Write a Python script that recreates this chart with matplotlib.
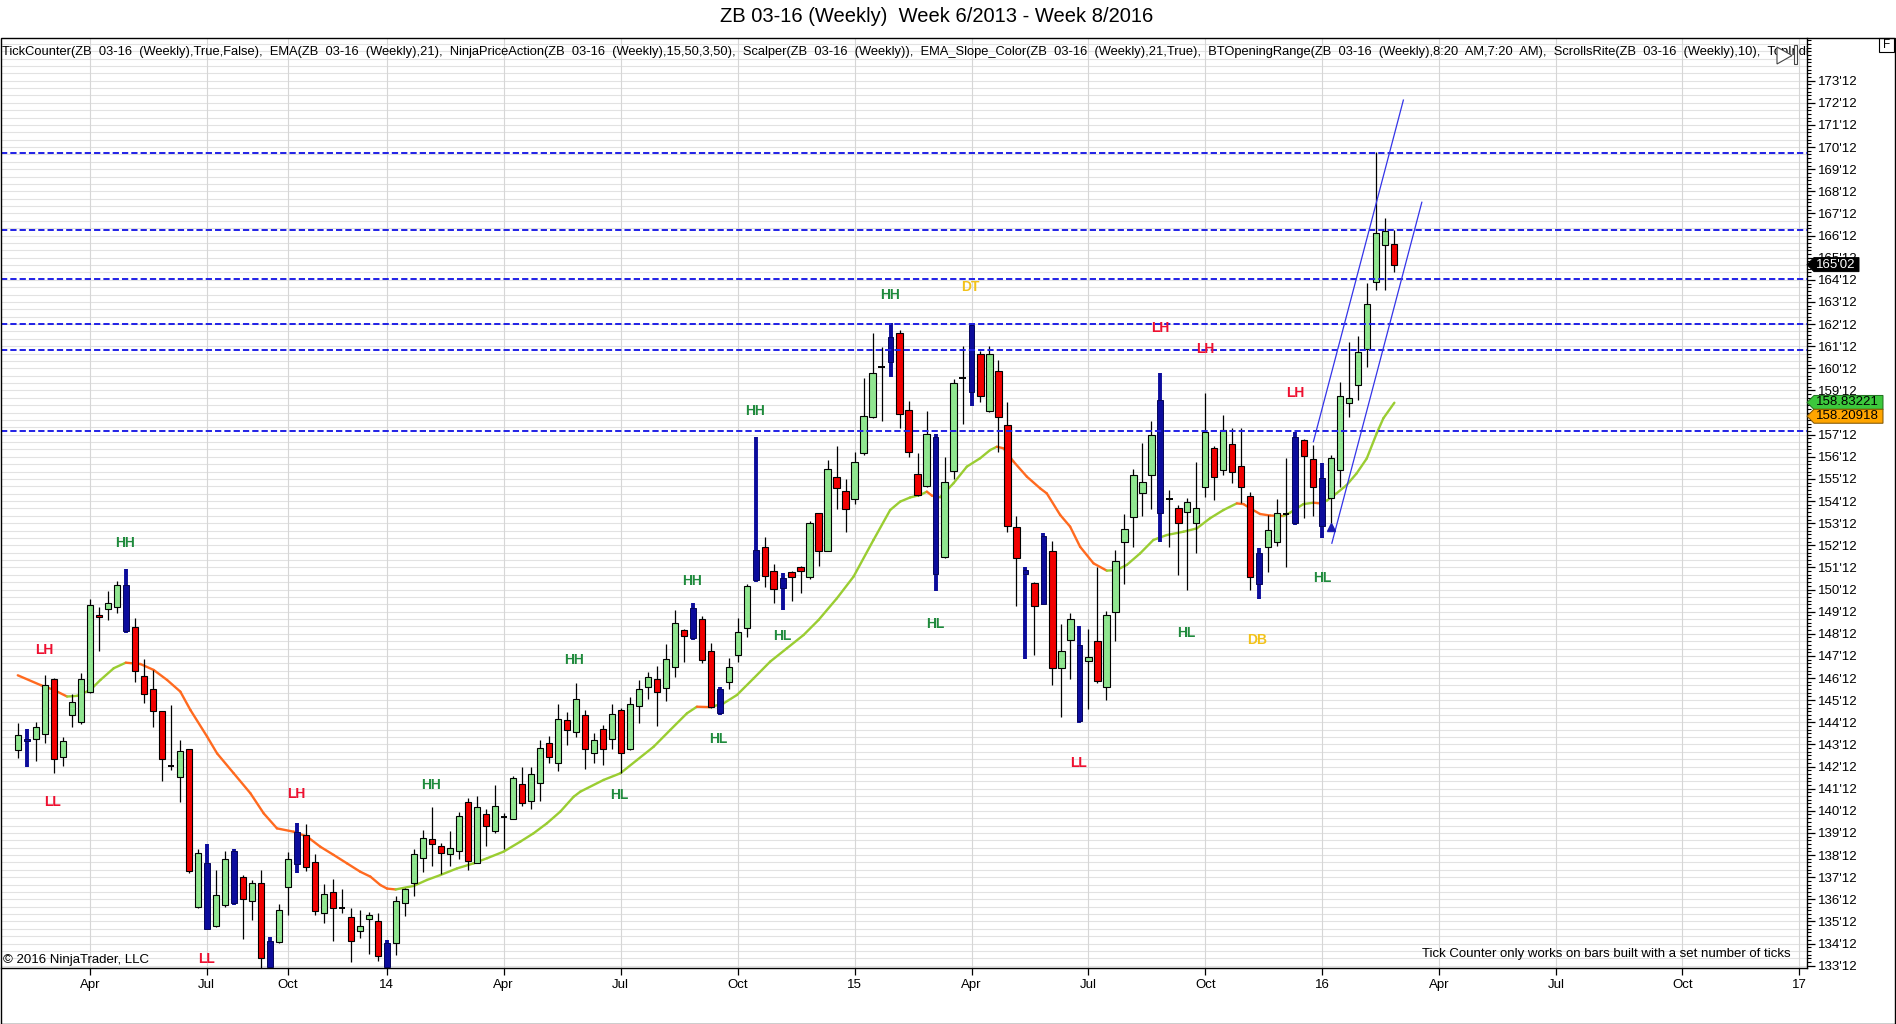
import matplotlib
matplotlib.use('Agg')
import matplotlib.pyplot as plt
from matplotlib.patches import Rectangle, Polygon
from matplotlib.collections import LineCollection
import numpy as np

plt.rcParams['font.family'] = ['Liberation Sans', 'DejaVu Sans']
plt.rcParams['lines.scale_dashes'] = False

# ---------------- data (weekly bars) ----------------
opens = [143.12, 143.60, 143.61, 143.85, 146.35, 142.79, 144.69, 144.39, 145.75, 149.24,
         149.48, 149.57, 150.57, 148.67, 146.47, 145.90, 144.87, 142.42, 141.92, 143.15,
         136.04, 138.00, 135.17, 136.13, 138.57, 137.37, 136.28, 137.13, 134.48, 134.45,
         136.92, 139.43, 139.30, 138.05, 135.74, 136.69, 135.97, 135.59, 134.96, 135.47,
         135.38, 134.42, 134.42, 136.22, 137.10, 138.23, 139.09, 138.78, 138.41, 138.57,
         140.76, 138.00, 140.23, 139.48, 140.08, 140.02, 141.59, 140.80, 141.65, 143.42,
         142.55, 144.48, 143.95, 144.71, 142.97, 144.06, 143.61, 144.92, 143.15, 145.11,
         145.96, 146.32, 145.91, 146.89, 148.55, 148.17, 149.03, 147.58, 144.78, 146.21,
         147.40, 148.62, 150.81, 152.28, 151.20, 150.43, 151.18, 151.38, 150.96, 153.82,
         152.13, 155.45, 154.83, 154.48, 156.56, 158.19, 160.45, 160.68, 161.96, 158.48,
         155.58, 155.06, 157.29, 151.86, 155.73, 159.95, 159.32, 161.01, 158.45, 160.24,
         157.80, 153.22, 151.26, 150.69, 149.72, 152.13, 146.83, 148.10, 147.87, 147.13,
         148.05, 145.96, 149.36, 152.51, 153.64, 154.73, 155.54, 158.94, 154.45, 154.05,
         153.90, 153.40, 155.00, 156.76, 155.78, 156.96, 155.96, 154.61, 150.63, 152.28,
         152.54, 153.79, 153.37, 157.14, 156.26, 155.40, 154.50, 155.78, 158.82, 159.61,
         161.23, 164.29, 165.93, 165.98]
highs = [144.36, 144.06, 144.39, 146.50, 146.38, 143.73, 145.66, 146.59, 149.96, 149.57,
         150.30, 150.75, 151.32, 149.09, 147.25, 146.74, 144.90, 145.16, 143.58, 143.18,
         138.67, 138.88, 137.70, 138.54, 138.67, 137.46, 137.25, 137.70, 134.69, 136.16,
         138.51, 139.81, 139.78, 138.42, 137.07, 137.28, 136.83, 135.97, 135.89, 135.80,
         135.74, 134.54, 136.52, 136.87, 138.63, 139.51, 140.53, 138.94, 139.46, 140.32,
         140.94, 141.04, 140.44, 141.54, 140.29, 141.95, 142.34, 142.37, 143.58, 143.76,
         145.20, 144.83, 146.14, 144.93, 143.88, 144.25, 145.20, 145.01, 145.53, 146.29,
         146.65, 146.92, 147.92, 149.45, 148.58, 149.78, 149.18, 147.98, 145.99, 147.28,
         149.08, 150.63, 157.26, 152.74, 151.53, 151.11, 151.21, 151.44, 153.49, 153.85,
         156.23, 156.88, 155.36, 156.59, 159.94, 161.96, 161.35, 162.41, 162.11, 158.91,
         156.56, 158.45, 157.41, 156.35, 159.91, 161.40, 162.41, 161.17, 161.38, 160.75,
         158.84, 153.72, 151.38, 150.73, 152.92, 152.56, 148.82, 149.33, 148.73, 148.58,
         151.41, 149.42, 152.16, 153.79, 155.81, 156.99, 157.98, 160.15, 154.88, 154.20,
         154.50, 156.16, 159.28, 156.86, 158.27, 157.66, 157.66, 154.80, 152.24, 153.75,
         154.45, 156.31, 157.51, 157.20, 156.91, 156.08, 156.46, 159.77, 161.58, 161.84,
         164.22, 170.17, 167.16, 166.63]
lows = [142.76, 142.34, 142.64, 143.43, 142.10, 142.40, 144.18, 144.30, 145.69, 147.58,
        149.00, 149.30, 148.43, 146.20, 145.23, 144.18, 141.74, 142.22, 140.77, 137.58,
        135.98, 135.02, 135.11, 136.04, 136.10, 134.57, 135.44, 133.26, 133.10, 134.42,
        135.68, 137.55, 137.64, 135.65, 135.32, 134.51, 135.77, 133.56, 134.63, 133.90,
        133.60, 133.18, 133.86, 135.62, 136.52, 137.61, 137.88, 137.52, 137.88, 138.18,
        137.70, 138.00, 138.78, 139.39, 138.66, 140.02, 140.59, 140.44, 140.83, 142.55,
        142.19, 143.36, 143.70, 142.25, 142.52, 142.45, 143.15, 142.10, 143.12, 144.33,
        145.41, 144.21, 145.35, 146.44, 147.12, 148.10, 147.04, 145.01, 144.71, 145.87,
        147.12, 148.25, 150.73, 150.48, 149.75, 149.45, 149.87, 150.24, 150.84, 151.44,
        152.13, 154.03, 152.99, 154.24, 156.44, 158.12, 158.01, 159.97, 157.66, 156.38,
        154.60, 155.03, 150.33, 151.79, 155.36, 157.86, 158.67, 158.87, 158.42, 156.61,
        152.99, 149.65, 147.22, 147.42, 149.68, 146.06, 144.60, 146.32, 144.36, 144.99,
        146.14, 145.38, 148.07, 150.63, 152.31, 153.72, 154.03, 152.54, 152.31, 151.03,
        150.36, 152.01, 154.54, 154.42, 155.55, 155.18, 154.30, 150.36, 149.93, 151.19,
        152.35, 151.38, 153.29, 153.60, 153.70, 152.69, 153.37, 155.03, 158.19, 158.94,
        160.45, 163.92, 163.92, 164.74]
closes = [143.79, 143.55, 144.15, 146.05, 142.70, 143.52, 145.29, 146.32, 149.66, 149.15,
          149.78, 150.57, 148.52, 146.68, 145.66, 144.90, 142.73, 142.42, 143.06, 137.67,
          138.48, 135.05, 136.59, 138.18, 136.20, 136.38, 137.10, 133.71, 133.30, 135.89,
          138.18, 137.97, 137.82, 135.83, 136.60, 135.97, 135.97, 134.48, 135.17, 135.65,
          133.81, 133.30, 136.28, 136.83, 138.42, 139.13, 138.86, 138.48, 138.69, 140.14,
          138.12, 140.55, 139.70, 140.59, 140.08, 141.84, 140.74, 142.04, 143.20, 142.82,
          144.51, 144.03, 145.41, 143.15, 143.56, 143.15, 144.75, 142.97, 145.19, 145.87,
          146.44, 145.76, 147.24, 148.85, 148.28, 149.53, 147.19, 145.05, 145.87, 146.86,
          148.44, 150.54, 152.16, 150.99, 150.39, 150.91, 150.96, 151.23, 153.40, 152.13,
          155.84, 154.95, 154.03, 156.16, 158.21, 160.15, 160.45, 161.81, 158.30, 156.58,
          154.65, 157.41, 151.08, 155.24, 159.70, 159.95, 162.33, 159.12, 161.01, 158.19,
          153.25, 151.79, 151.08, 149.63, 152.80, 146.82, 147.60, 149.03, 144.45, 147.31,
          146.24, 149.21, 151.68, 153.10, 155.57, 155.22, 157.35, 153.82, 154.45, 153.40,
          154.35, 154.05, 157.51, 155.48, 157.59, 155.71, 155.03, 150.93, 152.01, 153.07,
          153.85, 153.79, 157.29, 156.41, 155.03, 153.25, 156.31, 159.12, 159.02, 161.10,
          163.27, 166.51, 166.57, 165.0625]
# bars painted blue by the Scalper indicator (1-based bar numbers)
scalper_bars = [2, 13, 22, 25, 29, 32, 42, 76, 79, 83, 86, 98, 103, 107, 113, 115, 119,
                128, 139, 143, 146]

# EMA(21) line, points (bar number, price)
ema_bar = [1, 3.52, 5, 6.48, 7.59, 9.07, 10.19, 11.67, 13, 14.63, 16.11, 17.59, 19.07,
           20.19, 22.04, 23.15, 25, 26.85, 28.33, 29.81, 31.67, 33.15, 34.63, 36.11, 37.59,
           39.07, 40.19, 41.3, 42.04, 43.0, 45, 46.48, 47.96, 49.81, 51.67, 53.15, 55,
           56.85, 58.33, 59.81, 61.3, 62.78, 63.52, 66.11, 67.97, 69.82, 71.67, 73.52,
           75.37, 76.48, 77.96, 79.44, 80.93, 82.78, 84.63, 86.48, 88.33, 90.0, 92.04,
           93.89, 96.11, 97.96, 99.07, 100.19, 101.3, 102.04, 102.6, 103.52, 105.0, 106.48,
           107.96, 109.07, 109.81, 110.56, 111.67, 113.15, 114.63, 115.37, 116.85, 117.96,
           119.07, 120.56, 122.04, 123.15, 124.26, 125.74, 127.22, 128.71, 130.56, 132.04,
           133.52, 135.0, 136.48, 137.22, 137.96, 139.07, 140.19, 141.67, 142.41, 143.89,
           145.0, 145.74, 146.48, 147.59, 148.7, 149.81, 150.93, 152.04, 152.78, 154.0]
ema_val = [146.50, 146.06, 145.84, 145.54, 145.57, 145.84, 146.29, 146.82, 147.07, 147.01,
           146.74, 146.29, 145.76, 144.93, 143.73, 142.97, 142.07, 141.17, 140.26, 139.58,
           139.43, 139.21, 138.75, 138.38, 138.00, 137.62, 137.40, 137.02, 136.86, 136.82,
           136.98, 137.25, 137.47, 137.77, 138.00, 138.23, 138.53, 138.98, 139.36, 139.81,
           140.34, 141.01, 141.24, 141.77, 142.07, 142.67, 143.27, 144.03, 144.78, 145.08,
           145.06, 145.23, 145.61, 146.36, 147.12, 147.72, 148.32, 149.00, 149.98, 150.96,
           152.62, 153.97, 154.35, 154.54, 154.65, 154.80, 154.62, 154.55, 155.18, 155.93,
           156.31, 156.68, 156.83, 156.76, 156.16, 155.48, 154.95, 154.72, 153.75, 153.22,
           152.31, 151.56, 151.23, 151.26, 151.49, 152.01, 152.62, 152.84, 152.99, 153.14,
           153.60, 153.97, 154.27, 154.24, 154.05, 153.79, 153.72, 153.70, 153.85, 154.24,
           154.30, 154.27, 154.39, 154.73, 155.10, 155.63, 156.30, 157.44, 158.12, 158.82]
ema_tag_green = 158.83221
ema_tag_orange = 158.20918

# BTOpeningRange horizontal levels
levels = [170.125, 166.625, 164.40625, 162.375, 161.1875, 157.53125]

# ScrollsRite channel (bar, price) pairs
chan_upper_bar = [145.0, 155.0]
chan_upper_val = [157.06, 172.50]
chan_lower_bar = [147.05, 157.05]
chan_lower_val = [152.47, 167.88]
arrow_bar = [147]
arrow_val = [153.22]

# NinjaPriceAction swing labels
pa_text = ['LH', 'LL', 'HH', 'LL', 'LH', 'HH', 'HH', 'HL', 'HH', 'HL', 'HH', 'HL', 'HH',
           'DT', 'HL', 'LL', 'LH', 'LH', 'HL', 'DB', 'LH', 'HL']
pa_bar = [3.89, 4.89, 12.97, 21.93, 31.93, 46.97, 62.78, 67.86, 75.93, 78.89, 82.97, 85.93,
          97.97, 106.86, 102.97, 118.89, 127.97, 132.97, 130.86, 138.74, 142.97, 145.93]
pa_price = [147.64, 140.79, 152.47, 133.66, 141.14, 141.53, 147.19, 141.07, 150.76, 143.61,
            158.45, 148.28, 163.69, 164.04, 148.81, 142.52, 162.19, 161.24, 148.39, 148.11,
            159.25, 150.89]

# x axis labels (bar number of first bar of the period)
xtick_bar = [9, 22, 31, 42, 55, 68, 81, 94, 107, 120, 133, 146, 159, 172, 186, 199]
xtick_lbl = ['Apr', 'Jul', 'Oct', '14', 'Apr', 'Jul', 'Oct', '15', 'Apr', 'Jul', 'Oct', '16',
             'Apr', 'Jul', 'Oct', '17']
ytick_whole = list(range(133, 174))

title = "ZB 03-16 (Weekly)  Week 6/2013 - Week 8/2016"
indicators = ("TickCounter(ZB  03-16  (Weekly),True,False),  EMA(ZB  03-16  (Weekly),21),  "
              "NinjaPriceAction(ZB  03-16  (Weekly),15,50,3,50),  Scalper(ZB  03-16  (Weekly)),  "
              "EMA_Slope_Color(ZB  03-16  (Weekly),21,True),  BTOpeningRange(ZB  03-16  (Weekly),8:20  AM,7:20  AM),  "
              "ScrollsRite(ZB  03-16  (Weekly),10),  TopIndicator(ZB  03-16  (Weekly))")

# ---------------- figure ----------------
W, H, DPI = 1896, 1024, 100
fig = plt.figure(figsize=(W / DPI, H / DPI), dpi=DPI)
fig.patch.set_facecolor('white')


def px(x, y):
    return (x / W, 1 - y / H)


AX_L, AX_R, AX_T, AX_B = 0.5, 1807, 38, 968
ax = fig.add_axes([AX_L / W, 1 - AX_B / H, (AX_R - AX_L) / W, (AX_B - AX_T) / H])
ax.set_xlim(-0.92, 199.86)
ax.set_ylim(133.27, 175.305)
ax.set_facecolor('white')

# grid
ymin, ymax = ax.get_ylim()
gy = 133.375 - 1.0
while gy < ymax:
    if gy > ymin:
        ax.axhline(gy, color='#e2e2e2', lw=0.8, zorder=0)
    gy += 1.0 / 3.0
for xb in xtick_bar:
    ax.axvline(xb, color='#d6d6d6', lw=0.8, zorder=0)

# EMA coloured by slope
pts = np.column_stack([ema_bar, ema_val])
segs = np.stack([pts[:-1], pts[1:]], axis=1)
cols = ['#9acd32' if ema_val[k + 1] >= ema_val[k] else '#ff6a1f' for k in range(len(ema_val) - 1)]
ax.add_collection(LineCollection(segs, colors=cols, linewidths=1.7, capstyle='round', zorder=2))

# candles
n = len(opens)
xs = np.arange(1, n + 1)
for i in range(n):
    o, h, l, c = opens[i], highs[i], lows[i], closes[i]
    xb = xs[i]
    if (i + 1) in scalper_bars:
        ax.vlines(xb, l, h, color='#0c0c9c', lw=2.8, zorder=3)
        ax.add_patch(Rectangle((xb - 0.33, min(o, c)), 0.66, max(abs(c - o), 0.05),
                               facecolor='#0c0c9c', edgecolor='#06065a', lw=0.7, zorder=3.1))
        continue
    ax.vlines(xb, l, h, color='black', lw=0.9, zorder=3)
    if abs(c - o) < 0.02:
        ax.hlines(o, xb - 0.34, xb + 0.34, color='black', lw=1.4, zorder=3.1)
    else:
        fc = '#90e690' if c > o else '#f20000'
        ax.add_patch(Rectangle((xb - 0.34, min(o, c)), 0.68, abs(c - o),
                               facecolor=fc, edgecolor='black', lw=0.8, zorder=3.1))

# levels
for lv in levels:
    ax.axhline(lv, color='#2020e6', lw=1.4, dashes=(4.5, 2.2), zorder=4)

# channel
ax.plot(chan_upper_bar, chan_upper_val, color='#3434e8', lw=0.9, zorder=4)
ax.plot(chan_lower_bar, chan_lower_val, color='#3434e8', lw=0.9, zorder=4)
ax.plot(arrow_bar, arrow_val, marker='^', color='#1a1ab0', markersize=6, ls='none', zorder=4)

# swing labels
pa_col = {'HH': '#1f8a3c', 'HL': '#1f8a3c', 'LH': '#ee1030', 'LL': '#ee1030',
          'DT': '#f2c21a', 'DB': '#f2c21a'}
for t, b, p in zip(pa_text, pa_bar, pa_price):
    ax.text(b, p, t, ha='center', va='center', fontsize=10, fontweight='bold',
            color=pa_col[t], zorder=5)

# axes styling
for s in ['left', 'top']:
    ax.spines[s].set_visible(False)
for s in ['right', 'bottom']:
    ax.spines[s].set_color('black')
    ax.spines[s].set_linewidth(1.0)
ax.yaxis.tick_right()
ax.set_yticks([w + 0.375 for w in ytick_whole])
ax.set_yticklabels([f"{w}'12" for w in ytick_whole])
minor = []
m = 133.375 - 1.0
while m < ymax:
    if m > ymin:
        minor.append(m)
    m += 1.0 / 6.0
ax.set_yticks(minor, minor=True)
ax.tick_params(axis='y', which='major', length=6, width=0.9, direction='out',
               labelsize=9.5, pad=2, colors='black')
ax.tick_params(axis='y', which='minor', length=3.2, width=0.8, direction='out')
ax.set_xticks(xtick_bar)
ax.set_xticklabels(xtick_lbl)
ax.tick_params(axis='x', length=5, width=0.9, direction='out', labelsize=9.5, pad=3)

# indicator list at top of the panel
ax.text(2 / (AX_R - AX_L), 1 - (52 - AX_T) / (AX_B - AX_T), indicators, transform=ax.transAxes,
        ha='left', va='center', fontsize=9.3, color='black', clip_on=True, zorder=6)

# texts inside panel
fig.text(*px(3, 960), '\u00a9 2016 NinjaTrader, LLC', ha='left', va='center', fontsize=9.5, zorder=6)
fig.text(*px(1791, 954), 'Tick Counter only works on bars built with a set number of ticks',
         ha='right', va='center', fontsize=9.5, zorder=6)

# title
fig.text(*px(937, 16), title, ha='center', va='center', fontsize=14.5)

# outer frame and F box
x0, y0 = px(0.5, 1023.5)
x1, y1 = px(1895.5, 38)
fig.add_artist(Rectangle((x0, y0), x1 - x0, y1 - y0, transform=fig.transFigure,
                         fill=False, ec='black', lw=1.0, zorder=7))
fx0, fy0 = px(1879, 52)
fx1, fy1 = px(1894, 38)
fig.add_artist(Rectangle((fx0, fy0), fx1 - fx0, fy1 - fy0, transform=fig.transFigure,
                         fill=False, ec='black', lw=0.8, zorder=7))
fig.text(*px(1886.5, 45.5), 'F', ha='center', va='center', fontsize=8.5, zorder=7)

# play icon
fig.add_artist(Polygon([px(1777, 47), px(1777, 64), px(1792, 55.5)], closed=True,
                       transform=fig.transFigure, fc='white', ec='#444444', lw=0.8, zorder=7))
ix0, iy0 = px(1793.5, 64)
ix1, iy1 = px(1797, 45)
fig.add_artist(Rectangle((ix0, iy0), ix1 - ix0, iy1 - iy0, transform=fig.transFigure,
                         fc='white', ec='#444444', lw=0.8, zorder=7))


# price tags on the axis
def fmt32(v):
    w = int(v)
    f = int(round((v - w) * 32))
    return f"{w}'{f:02d}"


def tag(val, text, fc, tc, xend, ec):
    yd = ax.transData.transform((0, val))[1]
    yc = H - yd
    hh = 7.0
    poly = [px(1807, yc), px(1814, yc - hh), px(xend, yc - hh), px(xend, yc + hh), px(1814, yc + hh)]
    fig.add_artist(Polygon(poly, closed=True, transform=fig.transFigure, fc=fc, ec=ec,
                           lw=0.7, zorder=8))
    fig.text(*px(1816, yc), text, ha='left', va='center', fontsize=9.5, color=tc, zorder=9)


tag(closes[-1], fmt32(closes[-1]), 'black', 'white', 1859, 'black')
tag(ema_tag_green, f"{ema_tag_green:.5f}", '#3cc83c', 'black', 1883, '#1d6e1d')
tag(ema_tag_orange, f"{ema_tag_orange:.5f}", '#ffa500', 'black', 1883, '#7a5000')

fig.savefig('out.png', dpi=DPI, facecolor='white')
